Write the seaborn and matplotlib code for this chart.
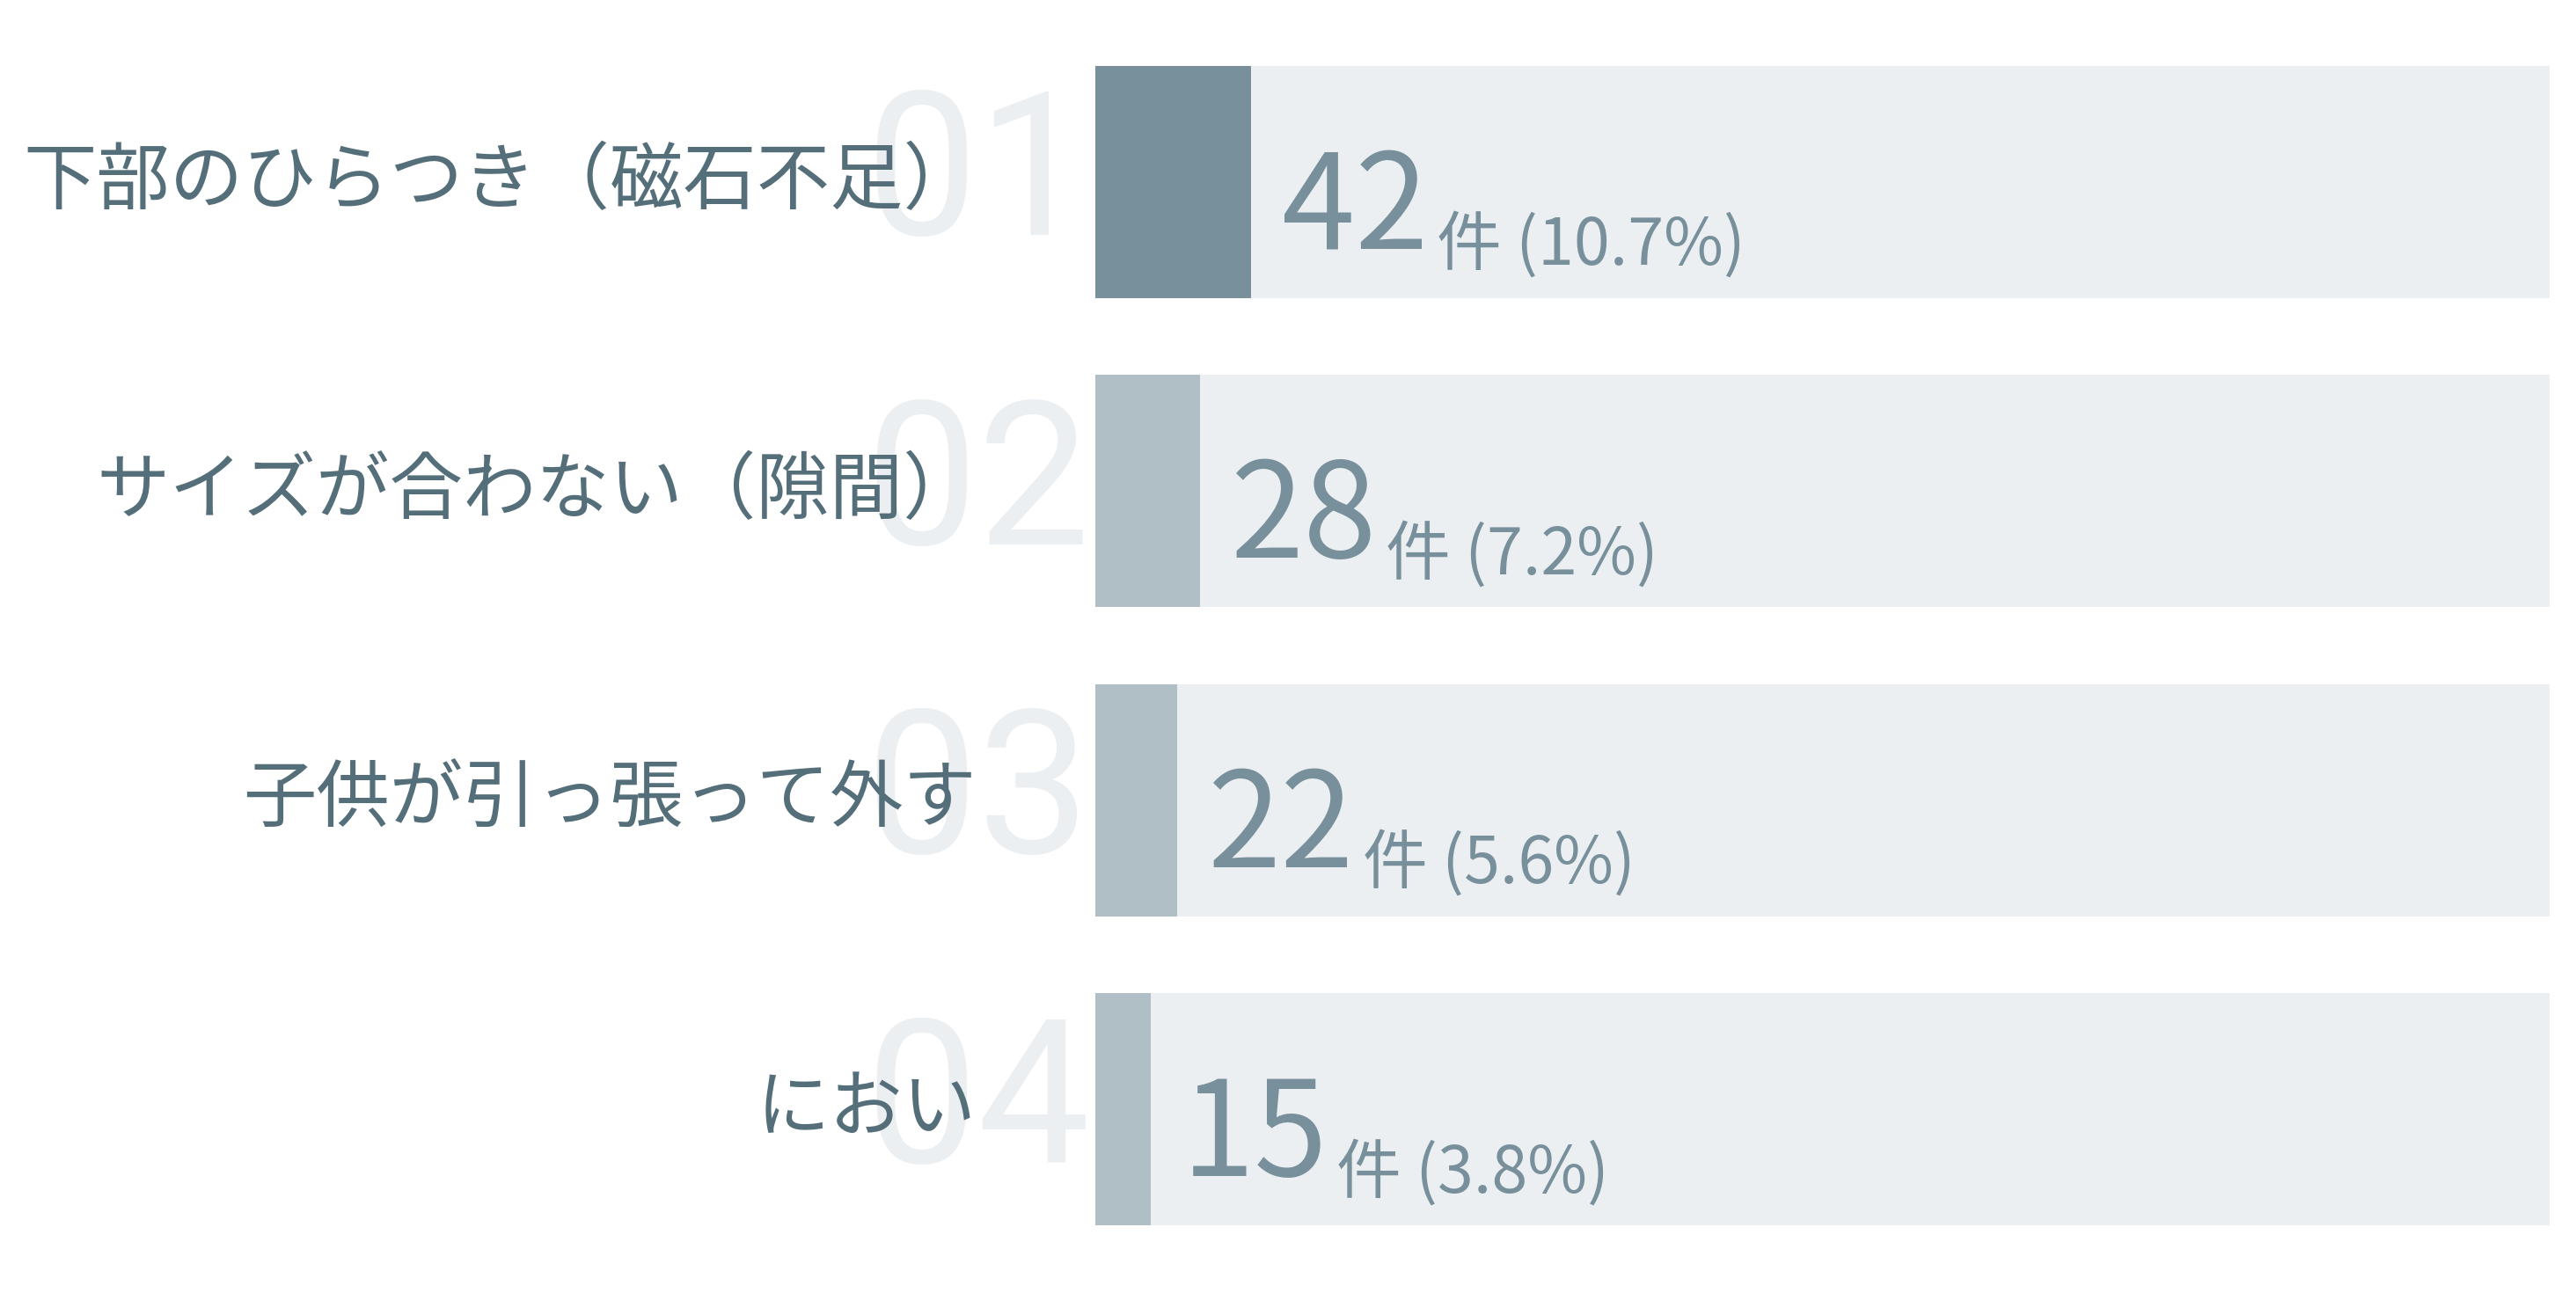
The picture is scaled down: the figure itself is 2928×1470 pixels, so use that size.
"""Horizontal progress-style bar chart of complaint reasons (counts and shares)."""
import matplotlib.pyplot as plt
import pandas as pd
import seaborn as sns

categories = ["下部のひらつき（磁石不足）", "サイズが合わない（隙間）", "子供が引っ張って外す", "におい"]
counts = [42, 28, 22, 15]
shares = [10.7, 7.2, 5.6, 3.8]
ranks = ["01", "02", "03", "04"]
track = [100, 100, 100, 100]

LABEL_COLOR = "#546E7A"
VALUE_COLOR = "#78909C"
TRACK_COLOR = "#ECEFF1"
FILL_COLORS = ["#78909C", "#B0BEC5", "#B0BEC5", "#B0BEC5"]

W, H, DPI = 2928, 1470, 200
PX = 72 / DPI  # points per output pixel


def main():
    sns.set_theme(style="white")
    plt.rcParams["font.family"] = ["Noto Sans CJK JP", "DejaVu Sans"]

    df = pd.DataFrame({"category": categories, "count": counts, "share": shares, "track": track})

    fig = plt.figure(figsize=(W / DPI, H / DPI), dpi=DPI)
    ax = fig.add_axes([1245 / W, 77 / H, (2898 - 1245) / W, (1393 - 75) / H])

    sns.barplot(data=df, x="track", y="category", color=TRACK_COLOR, width=0.75,
                saturation=1, errorbar=None, linewidth=0, ax=ax)
    sns.barplot(data=df, x="share", y="category", hue="category", palette=FILL_COLORS,
                width=0.75, saturation=1, errorbar=None, linewidth=0, legend=False, ax=ax)

    ax.set_xlim(0, 100)
    ax.set_ylim(3.375, -0.375)
    ax.set_axis_off()

    for i, row in df.iterrows():
        # faint rank number sitting behind the label
        ax.annotate(ranks[i], xy=(0, i), xytext=(-6 * PX, 2 * PX), textcoords="offset points",
                    ha="right", va="center", fontsize=82, fontweight="normal",
                    family=["Roboto", "Noto Sans CJK JP"],
                    color=TRACK_COLOR, zorder=1, annotation_clip=False)
        ax.annotate(row["category"], xy=(0, i), xytext=(-135 * PX, 0), textcoords="offset points",
                    ha="right", va="center", fontsize=30, color=LABEL_COLOR,
                    zorder=2, annotation_clip=False)

        big = ax.annotate(str(row["count"]), xy=(row["share"], i), xytext=(35 * PX, -76 * PX),
                          textcoords="offset points", ha="left", va="baseline",
                          fontsize=54, color=VALUE_COLOR, zorder=3)
        ax.annotate(f"件 ({row['share']}%)", xy=(1, 0), xycoords=big, xytext=(10 * PX, 0),
                    textcoords="offset points", ha="left", va="bottom",
                    fontsize=26.5, color=VALUE_COLOR, zorder=3)

    fig.savefig("out.png", dpi=DPI, facecolor="white")
    plt.close(fig)


if __name__ == "__main__":
    main()
